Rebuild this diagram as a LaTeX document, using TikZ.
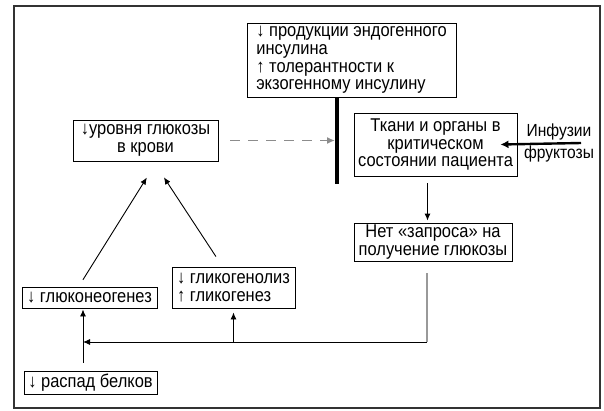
\documentclass[tikz,border=0pt]{standalone}
\usepackage{fontspec}
\setmainfont{Liberation Sans}[FakeStretch=0.89]
\usetikzlibrary{positioning, arrows.meta}
\tikzset{
    block/.style={
        draw, line width=0.9pt,
        inner sep=1pt,
        align=center,
        font=\fontsize{18.5}{17.7}\selectfont
    },
    line/.style={-{Latex[length=7pt, width=6pt]}, line width=0.9pt},
    fatline/.style={-{Latex[length=8pt, width=8pt]}, line width=2.4pt},
    dashline/.style={-{Latex[length=8pt, width=7pt]}, line width=1.6pt, dash pattern=on 10pt off 8pt, black!45}
}

\begin{document}
\begin{tikzpicture}[x=1pt, y=-1pt]

    \useasboundingbox (0,0) rectangle (604,410);
    \draw[line width=1.2pt, black!80] (14,6) rectangle (600,408);

    % boxes
    \node[block, align=left, minimum width=209pt, minimum height=74pt] (insulin) at (351.5,60)
        {↓ продукции эндогенного\\инсулина\\↑ толерантности к\\экзогенному инсулину};
    \node[block, minimum width=163pt, minimum height=63pt] (tissue) at (435.5,144.5)
        {Ткани и органы в\\критическом\\состоянии пациента};
    \node[font=\fontsize{17.5}{22}\selectfont, align=center, inner sep=0pt] (infusion) at (559,143)
        {Инфузии\\фруктозы};
    \node[block, minimum width=145pt, minimum height=41pt] (glucose) at (145.5,140.5)
        {↓уровня глюкозы\\в крови};
    \node[block, minimum width=158pt, minimum height=38pt] (norequest) at (433,242)
        {Нет «запроса» на\\получение глюкозы};
    \node[block, minimum width=135pt, minimum height=21pt] (gluconeo) at (89.5,297.5)
        {↓ глюконеогенез};
    \node[block, align=left, minimum width=123pt, minimum height=41pt] (glycogen) at (233.5,287.5)
        {↓ гликогенолиз\\↑ гликогенез};
    \node[block, minimum width=133pt, minimum height=23pt] (protein) at (90.5,382.5)
        {↓ распад белков};

    % block bar
    \coordinate (bartop) at (337,97);
    \coordinate (barbot) at (337,184);
    \coordinate (loop) at (83,342);
    \draw[line width=4pt] (bartop) -- (barbot);

    % connectors
    \draw[dashline, shorten <=12pt, shorten >=2pt] (glucose.east) -- (glucose.east -| bartop);
    \draw[fatline] ([xshift=22pt]infusion.center) -- ([xshift=-17pt]tissue.east);
    \draw[line, shorten <=7pt, shorten >=2pt] ([xshift=-8pt]tissue.south) -- ([xshift=-8pt]tissue.south |- norequest.north);
    \draw[line width=1.2pt, black!40] ([xshift=-6pt, yshift=-12pt]norequest.south) -- ([xshift=-6pt]norequest.south |- loop);
    \draw[line] ([xshift=-6pt]norequest.south |- loop) -- (loop);
    \draw[line] (glycogen.south |- loop) -- ([yshift=-4pt]glycogen.south);
    \draw[line, shorten <=8pt, shorten >=1pt] (protein.north -| loop) -- (gluconeo.south -| loop);
    \draw[line, shorten <=8pt, shorten >=19pt] ([xshift=-10.8pt]gluconeo.north) -- ([xshift=11.4pt]glucose.south);
    \draw[line, shorten <=12pt, shorten >=19pt] ([xshift=-11pt]glycogen.north) -- ([xshift=8pt]glucose.south);

\end{tikzpicture}
\end{document}
